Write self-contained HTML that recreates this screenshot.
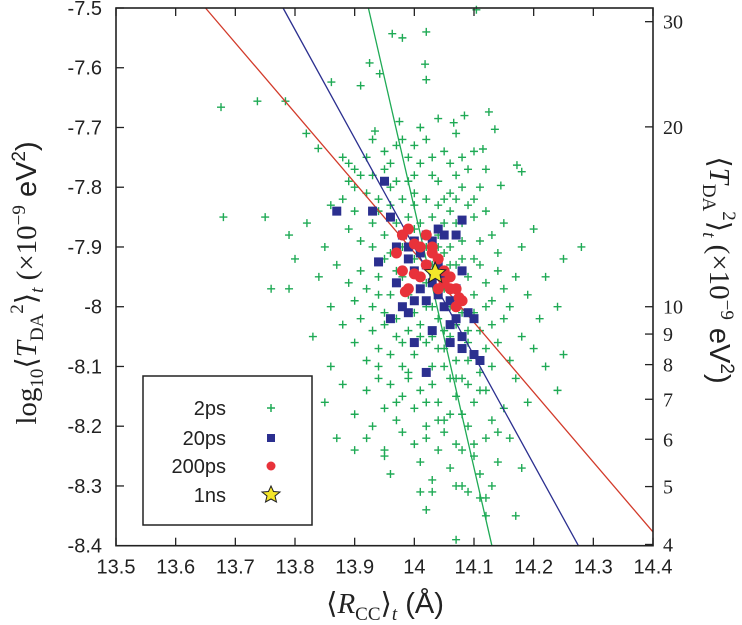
<!DOCTYPE html>
<html><head><meta charset="utf-8">
<style>
body{margin:0;background:#fff;}
svg{display:block;}
.tk{font-family:"Liberation Sans",sans-serif;font-size:20px;fill:#222;}
.rt{font-family:"Liberation Serif",serif;font-size:20px;fill:#222;}
</style></head>
<body>
<svg id="chart" width="742" height="625" xmlns="http://www.w3.org/2000/svg">
<g id="marks"></g>
<g id="axes"></g>
<text transform="translate(36,283) rotate(-90)" text-anchor="middle" font-family="Liberation Serif,serif" font-size="29" fill="#222">log<tspan font-size="19" dy="7">10</tspan><tspan dy="-7">⟨</tspan><tspan font-style="italic">T</tspan><tspan font-size="19" dy="7">DA</tspan><tspan font-size="19" dy="-20">2</tspan><tspan dy="13">⟩</tspan><tspan font-size="19" font-style="italic" dy="7">t</tspan><tspan dy="-7"> (×10</tspan><tspan font-size="19" dy="-11">−9</tspan><tspan dy="11" font-family="Liberation Sans,sans-serif"> eV</tspan><tspan font-size="19" dy="-11" font-family="Liberation Sans,sans-serif">2</tspan><tspan dy="11" font-family="Liberation Sans,sans-serif">)</tspan></text>
<text transform="translate(710,270) rotate(90)" text-anchor="middle" font-family="Liberation Serif,serif" font-size="29" fill="#222">⟨<tspan font-style="italic">T</tspan><tspan font-size="19" dy="7">DA</tspan><tspan font-size="19" dy="-20">2</tspan><tspan dy="13">⟩</tspan><tspan font-size="19" font-style="italic" dy="7">t</tspan><tspan dy="-7"> (×10</tspan><tspan font-size="19" dy="-11">−9</tspan><tspan dy="11" font-family="Liberation Sans,sans-serif"> eV</tspan><tspan font-size="19" dy="-11" font-family="Liberation Sans,sans-serif">2</tspan><tspan dy="11" font-family="Liberation Sans,sans-serif">)</tspan></text>
<text x="385" y="613" text-anchor="middle" font-family="Liberation Serif,serif" font-size="29" fill="#222">⟨<tspan font-style="italic">R</tspan><tspan font-size="19" dy="7">CC</tspan><tspan dy="-7">⟩</tspan><tspan font-size="19" font-style="italic" dy="7">t</tspan><tspan dy="-7" font-family="Liberation Sans,sans-serif"> (Å)</tspan></text>
<g>
<rect x="143" y="376" width="169" height="149" fill="#fff" stroke="#222" stroke-width="1.5"/>
<text class="tk" x="226" y="415" text-anchor="end">2ps</text>
<text class="tk" x="226" y="445" text-anchor="end">20ps</text>
<text class="tk" x="226" y="473" text-anchor="end">200ps</text>
<text class="tk" x="226" y="502" text-anchor="end">1ns</text>
<path d="M267 408h8M271 404v8" stroke="#1faa55" stroke-width="1.5"/>
<rect x="267" y="434" width="8" height="8" fill="#2b2f8f"/>
<circle cx="271" cy="466" r="4.5" fill="#e8323a"/>
<polygon points="271,486 273.5,491.5 280,492 275,496 276.5,502 271,499 265.5,502 267,496 262,492 268.5,491.5" fill="#f5e62a" stroke="#222" stroke-width="1"/>
</g>
</svg>
<script>
const xTicks=[13.5,13.6,13.7,13.8,13.9,14,14.1,14.2,14.3,14.4];
const yTicks=[-7.5,-7.6,-7.7,-7.8,-7.9,-8,-8.1,-8.2,-8.3,-8.4];
const rightTicks=[4,5,6,7,8,9,10,20,30];
const fitRed=[[13.65,-7.5],[14.4,-8.377]];
const fitBlue=[[13.78,-7.5],[14.275,-8.4]];
const fitGreen=[[13.923,-7.5],[14.13,-8.4]];
const green2ps=[[14.104,-7.503],[13.963,-7.543],[13.98,-7.55],[14.02,-7.54],[14.018,-7.594],[14.02,-7.62],[13.925,-7.592],[13.942,-7.61],[13.861,-7.624],[13.91,-7.63],[13.676,-7.666],[13.737,-7.656],[13.784,-7.656],[13.819,-7.71],[13.839,-7.735],[13.934,-7.706],[13.975,-7.69],[14.125,-7.674],[14.135,-7.703],[14.084,-7.68],[14.04,-7.685],[14.066,-7.692],[14.172,-7.763],[14.18,-7.774],[14.145,-7.797],[14.115,-7.736],
[13.88,-7.75],[13.89,-7.76],[13.9,-7.77],[13.91,-7.78],[13.89,-7.79],[13.9,-7.8],[13.92,-7.75],[13.93,-7.78],[13.95,-7.74],[13.96,-7.76],[13.97,-7.73],[13.98,-7.72],[13.99,-7.75],[14.0,-7.73],[14.01,-7.76],[14.02,-7.72],[14.03,-7.75],[14.05,-7.74],[14.06,-7.76],[14.07,-7.78],[14.08,-7.75],[14.09,-7.77],[14.1,-7.74],[14.11,-7.8],[14.0,-7.78],[13.97,-7.79],[13.96,-7.8],[14.04,-7.79],[14.06,-7.81],
[13.75,-7.85],[13.79,-7.88],[13.8,-7.92],[13.82,-7.86],[13.85,-7.9],[13.86,-7.83],[13.88,-7.82],[13.89,-7.87],[13.9,-7.84],[13.91,-7.89],[13.92,-7.81],[13.93,-7.86],[13.94,-7.82],[13.95,-7.88],[13.96,-7.83],[13.97,-7.86],[13.98,-7.82],[13.99,-7.85],[14.0,-7.83],[14.01,-7.86],[14.02,-7.82],[14.03,-7.85],[14.04,-7.83],[14.05,-7.86],[14.06,-7.84],[14.07,-7.82],[14.08,-7.86],[14.09,-7.83],[14.1,-7.85],[14.12,-7.84],[14.13,-7.88],[14.15,-7.86],[14.18,-7.9],[14.2,-7.87],[14.28,-7.9],[14.25,-7.92],[14.22,-7.95],
[13.68,-7.85],[13.76,-7.97],[13.79,-7.97],[13.84,-7.95],[13.86,-8.0],[13.87,-7.93],[13.89,-7.96],[13.9,-7.99],[13.91,-7.94],[13.92,-7.97],[13.93,-8.0],[13.94,-7.95],[13.95,-7.92],[13.96,-7.98],[13.97,-7.94],[14.0,-7.92],[14.02,-7.96],[14.03,-8.0],[14.05,-7.91],[14.08,-7.92],[14.09,-7.95],[14.1,-7.98],[14.11,-7.93],[14.12,-7.96],[14.13,-7.99],[14.14,-7.94],[14.15,-7.97],[14.16,-8.0],[14.17,-7.95],[14.19,-7.98],[14.21,-8.02],[14.24,-8.0],[14.14,-7.91],
[13.83,-8.05],[13.86,-8.1],[13.88,-8.03],[13.9,-8.06],[13.91,-8.02],[13.92,-8.09],[13.93,-8.04],[13.94,-8.07],[13.95,-8.03],[13.96,-8.08],[13.97,-8.05],[13.98,-8.1],[13.99,-8.04],[14.0,-8.08],[14.01,-8.03],[14.02,-8.06],[14.04,-8.07],[14.05,-8.1],[14.06,-8.05],[14.07,-8.09],[14.09,-8.06],[14.11,-8.04],[14.12,-8.07],[14.13,-8.03],[14.14,-8.06],[14.15,-8.02],[14.16,-8.09],[14.18,-8.05],[14.2,-8.07],[14.22,-8.1],[14.25,-8.08],
[13.85,-8.16],[13.88,-8.13],[13.9,-8.18],[13.92,-8.14],[13.93,-8.2],[13.94,-8.12],[13.95,-8.17],[13.96,-8.13],[13.97,-8.19],[13.98,-8.15],[13.99,-8.12],[14.0,-8.17],[14.01,-8.14],[14.02,-8.2],[14.03,-8.13],[14.04,-8.16],[14.05,-8.19],[14.06,-8.12],[14.07,-8.15],[14.08,-8.18],[14.09,-8.13],[14.1,-8.16],[14.12,-8.14],[14.13,-8.19],[14.15,-8.17],[14.17,-8.12],[14.19,-8.16],[14.24,-8.14],
[13.87,-8.22],[13.9,-8.24],[13.92,-8.22],[13.95,-8.25],[13.96,-8.28],[14.0,-8.23],[14.01,-8.26],[14.02,-8.22],[14.03,-8.29],[14.04,-8.24],[14.06,-8.27],[14.07,-8.23],[14.08,-8.3],[14.1,-8.25],[14.11,-8.28],[14.12,-8.22],[14.14,-8.26],[14.16,-8.22],[14.18,-8.27],[13.95,-8.24],[14.01,-8.31],[14.03,-8.31],[14.07,-8.3],[14.09,-8.31],[14.11,-8.32],[14.12,-8.32],[14.13,-8.3],[14.02,-8.34],[14.12,-8.35],[14.17,-8.35],[14.07,-8.39],[14.1,-8.23],[14.05,-8.21],
[13.98,-7.9],[14.0,-7.87],[14.01,-7.95],[14.02,-7.9],[14.03,-7.93],[14.04,-7.88],[14.05,-7.97],[14.06,-7.9],[14.07,-7.93],[14.08,-7.89],[13.99,-7.98],[14.0,-8.01],[14.02,-8.0],[14.04,-8.02],[14.06,-8.0],[14.07,-8.03],[14.08,-8.01],[14.09,-8.04],[14.1,-8.01],[13.97,-8.02],[13.98,-8.06],[14.03,-8.05],[14.05,-8.04],[14.08,-8.12],[14.11,-8.11],
[13.95,-7.77],[13.99,-7.79],[14.03,-7.78],[14.08,-7.8],[13.94,-7.84],[14.0,-7.81],[14.05,-7.82],[14.1,-7.82],[13.93,-7.9],[13.96,-7.91],[14.04,-7.9],[14.07,-7.86],[14.11,-7.89],[13.94,-7.98],[13.98,-7.95],[14.06,-7.93],[14.1,-7.92],[14.12,-8.0],[13.95,-8.01],[14.01,-8.05],[14.05,-8.07],[14.09,-8.09],[14.13,-8.1],[13.94,-8.1],[13.99,-8.11],[14.03,-8.1],[14.07,-8.12],[14.11,-8.14],[13.97,-8.16],[14.02,-8.16],[14.06,-8.18],[14.09,-8.2],[14.14,-8.21],[13.98,-8.21],[14.04,-8.19],[14.08,-8.24],[13.93,-7.72],[14.07,-7.71],[14.12,-7.77],[14.01,-7.7]];
const blue20ps=[[13.87,-7.84],[13.93,-7.84],[13.95,-7.79],[13.96,-7.85],[13.94,-7.925],[13.97,-7.9],[13.98,-7.88],[13.99,-7.9],[14.0,-7.89],[14.01,-7.91],[14.02,-7.88],[14.03,-7.89],[14.04,-7.87],[14.05,-7.88],[14.07,-7.88],[14.08,-7.855],[13.97,-7.96],[13.96,-8.02],[13.99,-8.01],[14.0,-7.99],[14.01,-7.97],[14.02,-7.93],[14.03,-7.96],[14.04,-7.98],[14.05,-8.0],[14.06,-7.99],[14.06,-8.03],[14.07,-8.02],[14.08,-8.05],[14.09,-8.01],[14.1,-8.02],[14.1,-8.08],[14.11,-8.09],[14.08,-8.07],[14.03,-8.04],[14.02,-8.11],[14.0,-8.06],[13.98,-8.0],[14.04,-7.93],[14.0,-7.94],[13.99,-7.92],[14.05,-7.95],[14.07,-7.97],[14.02,-7.99],[14.06,-8.06],[14.08,-7.94]];
const red200ps=[[13.98,-7.88],[13.99,-7.87],[14.0,-7.895],[14.01,-7.9],[14.02,-7.88],[14.03,-7.91],[14.04,-7.92],[14.03,-7.9],[13.97,-7.91],[13.98,-7.94],[14.0,-7.945],[14.01,-7.95],[14.05,-7.94],[14.06,-7.95],[14.05,-7.96],[14.07,-7.97],[14.08,-7.99],[14.07,-8.0],[13.99,-7.97],[13.985,-7.975],[14.04,-7.97],[14.02,-7.93],[14.06,-7.97],[14.075,-7.985]];
const star1ns=[[14.035,-7.944]];

const X0=116,X1=653,Y0=8,Y1=545.7;
function sx(v){return X0+(v-13.5)/0.9*(X1-X0);}
function sy(v){return Y0+(-7.5-v)/0.9*(Y1-Y0);}
const NS='http://www.w3.org/2000/svg';
const marks=document.getElementById('marks'),axes=document.getElementById('axes');
function mk(tag,attrs,parent){const e=document.createElementNS(NS,tag);for(const k in attrs)e.setAttribute(k,attrs[k]);parent.appendChild(e);return e;}

green2ps.forEach(p=>{const x=sx(p[0]),y=sy(p[1]);
const e=mk('path',{d:`M${x-4} ${y}h8M${x} ${y-4}v8`,stroke:'#1faa55','stroke-width':1.4},marks);

});
[[fitRed,'#d23a2a','fit-line-200ps'],[fitBlue,'#2b2f8f','fit-line-20ps'],[fitGreen,'#1faa55','fit-line-2ps']].forEach(f=>{
const e=mk('line',{x1:sx(f[0][0][0]),y1:sy(f[0][0][1]),x2:sx(f[0][1][0]),y2:sy(f[0][1][1]),stroke:f[1],'stroke-width':1.3},marks);

});
blue20ps.forEach(p=>{
const e=mk('rect',{x:sx(p[0])-4.5,y:sy(p[1])-4.5,width:9,height:9,fill:'#2b2f8f'},marks);

});
red200ps.forEach(p=>{
const e=mk('circle',{cx:sx(p[0]),cy:sy(p[1]),r:5.5,fill:'#e8323a'},marks);

});
star1ns.forEach(p=>{const cx=sx(p[0]),cy=sy(p[1]);let pts=[];
for(let i=0;i<10;i++){const r=i%2?5:11,a=-Math.PI/2+i*Math.PI/5;pts.push((cx+r*Math.cos(a)).toFixed(1)+','+(cy+r*Math.sin(a)).toFixed(1));}
const e=mk('polygon',{points:pts.join(' '),fill:'#f5e62a',stroke:'#222','stroke-width':1},marks);

});

const frame=mk('rect',{x:X0,y:Y0,width:X1-X0,height:Y1-Y0,fill:'none',stroke:'#222','stroke-width':1.6},axes);


xTicks.forEach(v=>{const x=sx(v);
mk('line',{x1:x,y1:Y1,x2:x,y2:Y1-8,stroke:'#222','stroke-width':1.3},axes);
mk('line',{x1:x,y1:Y0,x2:x,y2:Y0+8,stroke:'#222','stroke-width':1.3},axes);
const t=mk('text',{x:x,y:Y1+28,'text-anchor':'middle',class:'tk'},axes);t.textContent=String(v);

});
yTicks.forEach(v=>{const y=sy(v);
mk('line',{x1:X0,y1:y,x2:X0+8,y2:y,stroke:'#222','stroke-width':1.3},axes);
const t=mk('text',{x:X0-14,y:y+7,'text-anchor':'end',class:'tk'},axes);t.textContent=String(v);

});
rightTicks.forEach(v=>{const y=sy(Math.log10(v*1e-9));
mk('line',{x1:X1,y1:y,x2:X1-8,y2:y,stroke:'#222','stroke-width':1.3},axes);
const t=mk('text',{x:X1+10,y:y+7,'text-anchor':'start',class:'rt'},axes);t.textContent=String(v);

});
</script>
</body></html>
